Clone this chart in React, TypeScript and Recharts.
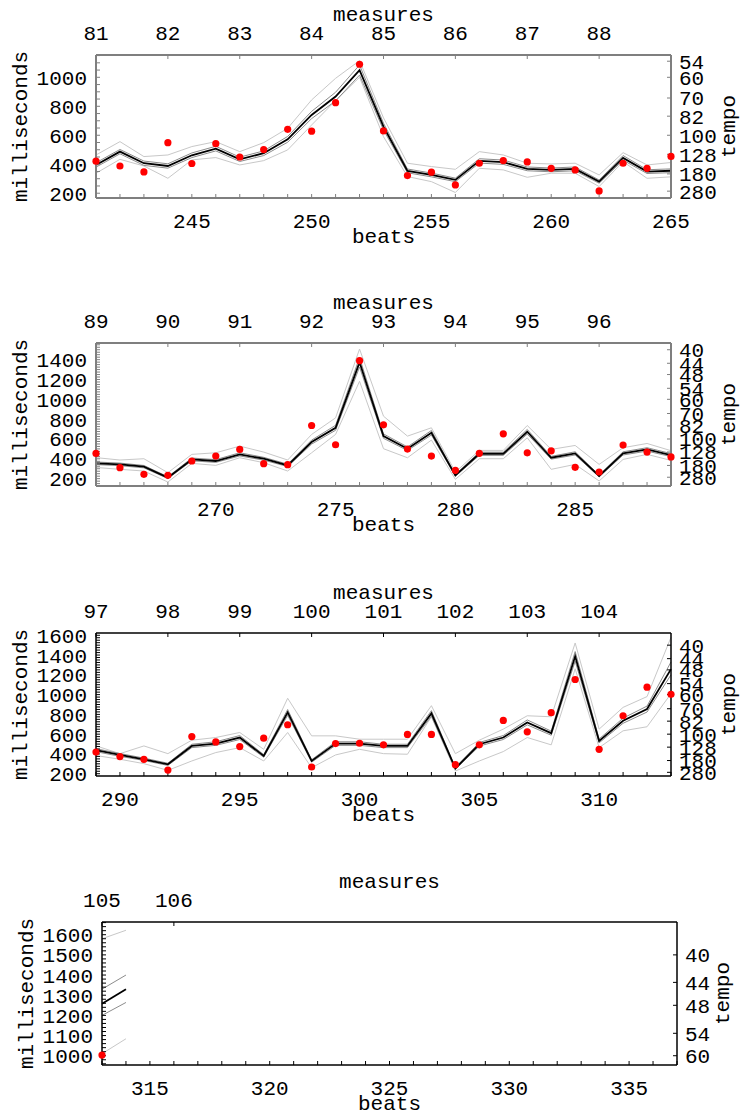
import React from 'react';
import { LineChart, Line, XAxis, YAxis } from 'recharts';

const FONT = '"Liberation Mono", "DejaVu Sans Mono", monospace';

// beats 241 .. 314, one entry per beat
const FIRST_BEAT = 241;

const observed = [
  421, 388, 347, 549, 405, 542, 450, 501, 641, 628, 825, 1090, 630, 322, 345, 257, 407, 425, 416, 372, 361, 216, 407, 372,
  454, 311, 244, 234, 378, 428, 495, 351, 341, 736, 542, 1390, 743, 498, 428, 284, 455, 652, 461, 481, 314, 267, 539, 468,
  419, 373, 346, 237, 576, 522, 475, 559, 695, 268, 505, 508, 492, 597, 597, 292, 492, 739, 624, 817, 1153, 447, 786, 1075,
  1003, null,
];

const mean = [
  395, 487, 407, 388, 462, 508, 434, 476, 572, 740, 867, 1050, 660, 354, 326, 292, 423, 414, 368, 361, 368, 280, 444, 349,
  355, 344, 321, 210, 394, 378, 445, 401, 334, 569, 713, 1373, 629, 502, 663, 233, 451, 451, 673, 411, 455, 227, 455, 495,
  438, 390, 346, 295, 481, 505, 566, 380, 820, 329, 505, 505, 481, 481, 810, 254, 498, 566, 719, 610, 1387, 532, 736, 854,
  1258, 1330,
];

const innerHi = [
  410, 502, 422, 403, 478, 524, 449, 492, 592, 765, 897, 1085, 683, 367, 339, 304, 438, 429, 381, 374, 381, 291, 460, 362,
  368, 357, 333, 219, 408, 392, 461, 415, 346, 589, 738, 1420, 651, 520, 686, 242, 467, 467, 696, 425, 471, 236, 471, 512,
  453, 404, 358, 306, 498, 523, 586, 393, 849, 341, 523, 523, 498, 498, 838, 263, 516, 586, 744, 631, 1435, 551, 762, 884,
  1330, 1400,
];

const innerLo = [
  380, 472, 392, 373, 446, 492, 419, 460, 552, 715, 837, 1015, 637, 341, 313, 280, 408, 399, 355, 348, 355, 269, 428, 336,
  342, 331, 309, 201, 380, 364, 429, 387, 322, 549, 688, 1326, 607, 484, 640, 224, 435, 435, 650, 397, 439, 218, 439, 478,
  423, 376, 334, 284, 464, 487, 546, 367, 791, 317, 487, 487, 464, 464, 782, 245, 480, 546, 694, 589, 1339, 513, 710, 824,
  1200, 1264,
];

const outerHi = [
  464, 556, 453, 464, 522, 556, 487, 549, 648, 844, 993, 1115, 720, 407, 384, 365, 487, 464, 407, 402, 407, 326, 480, 395,
  412, 388, 401, 260, 445, 461, 528, 468, 388, 646, 813, 1507, 830, 629, 713, 267, 485, 485, 736, 495, 535, 344, 512, 555,
  482, 403, 481, 403, 539, 566, 617, 447, 963, 583, 583, 549, 549, 549, 888, 403, 539, 651, 786, 776, 1522, 651, 871, 980,
  1580, 1622,
];

const outerLo = [
  338, 434, 388, 303, 430, 446, 395, 425, 499, 671, 839, 1000, 590, 315, 280, 205, 372, 361, 310, 338, 338, 246, 418, 303,
  313, 294, 277, 166, 354, 334, 411, 361, 277, 461, 646, 1182, 502, 411, 589, 193, 401, 401, 612, 294, 344, 177, 394, 445,
  384, 346, 302, 234, 329, 414, 464, 329, 617, 261, 390, 447, 403, 397, 776, 227, 329, 424, 566, 492, 1261, 464, 634, 675,
  1010, 1084,
];

// measures: 3 beats each, measure 81 starts at beat 241
const FIRST_MEASURE = 81;
const BEATS_PER_MEASURE = 3;

const tempoMarks = [40, 44, 48, 54, 60, 70, 82, 100, 128, 180, 280];

const panelBeatRanges = [[241, 265], [265, 289], [289, 313], [313, 337]];
const panelMsDomains = [[167, 1154], [126, 1568], [177, 1623], [954, 1663]];
const panelMsLabels = [
  [200, 400, 600, 800, 1000],
  [200, 400, 600, 800, 1000, 1200, 1400],
  [200, 400, 600, 800, 1000, 1200, 1400, 1600],
  [1000, 1100, 1200, 1300, 1400, 1500, 1600],
];
const panelMsMinorStep = [50, 25, 25, 20];
const panelBeatLabels = [
  [245, 250, 255, 260, 265],
  [270, 275, 280, 285],
  [290, 295, 300, 305, 310],
  [315, 320, 325, 330, 335],
];
const panelMeasures = [
  [81, 82, 83, 84, 85, 86, 87, 88],
  [89, 90, 91, 92, 93, 94, 95, 96],
  [97, 98, 99, 100, 101, 102, 103, 104],
  [105, 106],
];

const layout = [
  { top: 0, plotLeft: 96, plotRight: 671, tempoX: 735, frame: '#7f7f7f', frameWidth: 2 },
  { top: 288, plotLeft: 96, plotRight: 671, tempoX: 735, frame: '#7f7f7f', frameWidth: 2 },
  { top: 578, plotLeft: 96, plotRight: 671, tempoX: 735, frame: '#000000', frameWidth: 1.5 },
  { top: 867, plotLeft: 102, plotRight: 677, tempoX: 729, frame: '#000000', frameWidth: 1.5 },
];

const CHART_W = 740;
const CHART_H = 250;
const TOP_H = 55;
const BOTTOM_H = 52;
const TICK = 4;
const FONT_SIZE = 21;

const rows = mean.map((m, i) => ({
  beat: FIRST_BEAT + i,
  mean: m,
  innerHi: innerHi[i],
  innerLo: innerLo[i],
  outerHi: outerHi[i],
  outerLo: outerLo[i],
  observed: observed[i],
}));

const measureBeat = (m: number) => FIRST_BEAT + (m - FIRST_MEASURE) * BEATS_PER_MEASURE;

function range(a: number, b: number, step: number) {
  const out: number[] = [];
  for (let v = Math.ceil(a / step) * step; v <= b + 1e-9; v += step) out.push(v);
  return out;
}

function Panel({ index }: { index: number }) {
  const [b0, b1] = panelBeatRanges[index];
  const [y0, y1] = panelMsDomains[index];
  const L = layout[index];
  const data = rows.filter((r) => r.beat >= b0 && r.beat <= b1);
  const axisLine = { stroke: L.frame, strokeWidth: L.frameWidth };
  const tickLine = { stroke: L.frame, strokeWidth: 1 };
  const tickStyle = { fill: '#000', fontSize: FONT_SIZE, fontFamily: FONT };
  const msLabels = panelMsLabels[index];
  const beatLabels = panelBeatLabels[index];
  const tempoTicks = tempoMarks.map((t) => 60000 / t).filter((v) => v >= y0 && v <= y1);

  return (
    <div style={{ position: 'absolute', top: L.top, left: 0 }}>
      <LineChart width={CHART_W} height={CHART_H} data={data} margin={{ top: 0, right: 0, bottom: 0, left: 0 }}>
        <XAxis
          xAxisId="bottom"
          dataKey="beat"
          type="number"
          domain={[b0, b1]}
          ticks={range(b0, b1, 1)}
          interval={0}
          height={BOTTOM_H}
          axisLine={axisLine}
          tickLine={tickLine}
          tickSize={-TICK}
          tickMargin={TICK + 15}
          tick={tickStyle}
          tickFormatter={(v: number) => (beatLabels.includes(v) ? String(v) : '')}
        />
        <XAxis
          xAxisId="top"
          orientation="top"
          dataKey="beat"
          type="number"
          domain={[b0, b1]}
          ticks={panelMeasures[index].map(measureBeat)}
          interval={0}
          height={TOP_H}
          axisLine={axisLine}
          tickLine={tickLine}
          tickSize={-TICK}
          tickMargin={TICK + 15}
          tick={tickStyle}
          tickFormatter={(v: number) => String(FIRST_MEASURE + (v - FIRST_BEAT) / BEATS_PER_MEASURE)}
        />
        <YAxis
          yAxisId="left"
          type="number"
          domain={[y0, y1]}
          ticks={range(y0, y1, panelMsMinorStep[index])}
          interval={0}
          width={L.plotLeft}
          axisLine={axisLine}
          tickLine={tickLine}
          tickSize={-TICK}
          tickMargin={TICK + 9}
          tick={tickStyle}
          tickFormatter={(v: number) => (msLabels.includes(v) ? String(v) : '')}
        />
        <YAxis
          yAxisId="right"
          orientation="right"
          type="number"
          domain={[y0, y1]}
          ticks={tempoTicks}
          interval={0}
          width={CHART_W - L.plotRight}
          axisLine={axisLine}
          tickLine={tickLine}
          tickSize={-TICK}
          tickMargin={TICK + 8}
          tick={tickStyle}
          tickFormatter={(v: number) => String(Math.round(60000 / v))}
        />
        <Line xAxisId="bottom" yAxisId="left" dataKey="outerHi" stroke="#c8c8c8" strokeWidth={1} dot={false} isAnimationActive={false} />
        <Line xAxisId="bottom" yAxisId="left" dataKey="outerLo" stroke="#c8c8c8" strokeWidth={1} dot={false} isAnimationActive={false} />
        <Line xAxisId="bottom" yAxisId="left" dataKey="innerHi" stroke="#8c8c8c" strokeWidth={1} dot={false} isAnimationActive={false} />
        <Line xAxisId="bottom" yAxisId="left" dataKey="innerLo" stroke="#8c8c8c" strokeWidth={1} dot={false} isAnimationActive={false} />
        <Line xAxisId="bottom" yAxisId="left" dataKey="mean" stroke="#000" strokeWidth={1.8} dot={false} isAnimationActive={false} />
        {/* same mean series on the tempo axis, invisible, so the right axis gets drawn */}
        <Line xAxisId="top" yAxisId="right" dataKey="mean" stroke="none" dot={false} activeDot={false} isAnimationActive={false} />
        <Line
          xAxisId="bottom"
          yAxisId="left"
          dataKey="observed"
          stroke="none"
          dot={{ r: 3.6, fill: '#ff0000', stroke: 'none' }}
          activeDot={false}
          isAnimationActive={false}
        />
      </LineChart>
    </div>
  );
}

function Titles() {
  return (
    <svg
      width={CHART_W}
      height={1114}
      style={{ position: 'absolute', top: 0, left: 0, pointerEvents: 'none' }}
      fontFamily={FONT}
      fontSize={FONT_SIZE}
      fill="#000"
    >
      {layout.map((L, i) => {
        const cx = (L.plotLeft + L.plotRight) / 2;
        const cy = L.top + TOP_H + (CHART_H - TOP_H - BOTTOM_H) / 2;
        const leftX = L.plotLeft - 69;
        return (
          <g key={i}>
            <text x={cx} y={L.top + 21} textAnchor="middle">measures</text>
            <text x={cx} y={L.top + 243} textAnchor="middle">beats</text>
            <text x={leftX} y={cy} textAnchor="middle" transform={`rotate(-90 ${leftX} ${cy})`}>milliseconds</text>
            <text x={L.tempoX} y={cy} textAnchor="middle" transform={`rotate(-90 ${L.tempoX} ${cy})`}>tempo</text>
          </g>
        );
      })}
    </svg>
  );
}

export default function App() {
  return (
    <div style={{ position: 'relative', width: CHART_W, height: 1114, background: '#fff', fontFamily: FONT }}>
      <style>{'body{margin:0}'}</style>
      {layout.map((_, i) => (
        <Panel key={i} index={i} />
      ))}
      <Titles />
    </div>
  );
}
